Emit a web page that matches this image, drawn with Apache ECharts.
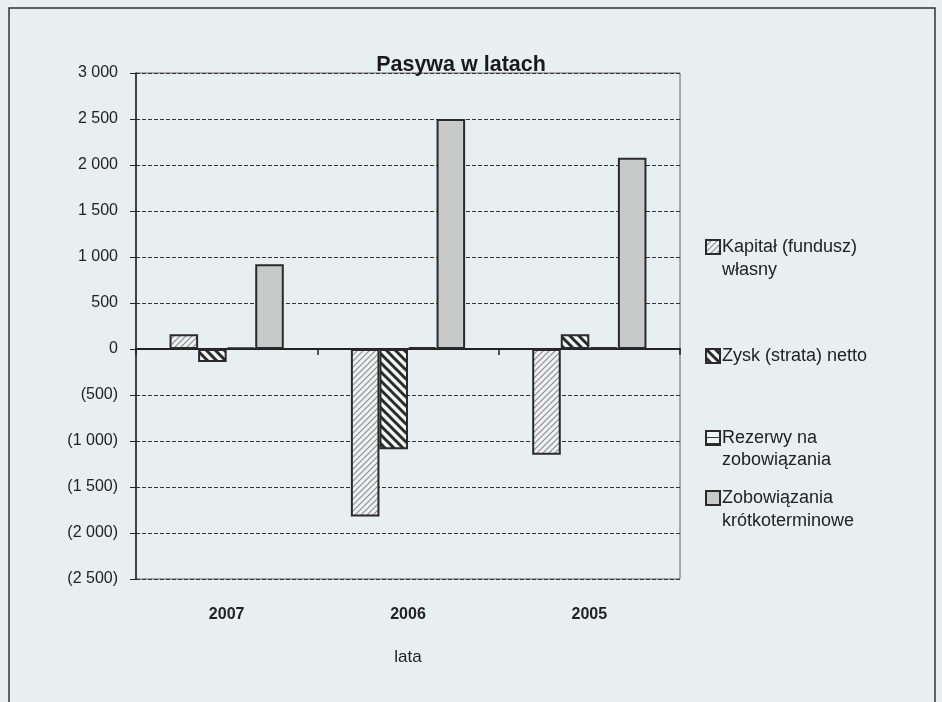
<!DOCTYPE html>
<html><head><meta charset="utf-8">
<script src="https://cdn.jsdelivr.net/npm/echarts@6/dist/echarts.min.js"></script>
<style>html,body{margin:0;padding:0;background:#e8eff1;}#c{width:942px;height:702px;}</style>
</head><body><div id="c"></div>
<script>
var categories = ['2007', '2006', '2005'];
var seriesNames = ['Kapitał (fundusz) własny', 'Zysk (strata) netto', 'Rezerwy na zobowiązania', 'Zobowiązania krótkoterminowe'];
var kapital = [160, -1820, -1150];
var zysk = [-140, -1090, 160];
var rezerwy = [15, 20, 20];
var zobowiazania = [920, 2500, 2080];
var yTicks = {min: -2500, max: 3000, interval: 500};

function pat(kind) {
  var c = document.createElement('canvas');
  var s = kind === 'zysk' ? 9 : 6;
  c.width = s; c.height = s;
  var g = c.getContext('2d');
  if (kind === 'kap') {
    g.fillStyle = '#eef2f2'; g.fillRect(0, 0, s, s);
    g.strokeStyle = '#8e8e8e'; g.lineWidth = 1.2;
    g.beginPath(); g.moveTo(0, s); g.lineTo(s, 0); g.moveTo(-1, 1); g.lineTo(1, -1); g.moveTo(s - 1, s + 1); g.lineTo(s + 1, s - 1); g.stroke();
  } else if (kind === 'zysk') {
    g.fillStyle = '#f4f6f6'; g.fillRect(0, 0, s, s);
    g.strokeStyle = '#2b2b2b'; g.lineWidth = 3;
    g.beginPath(); g.moveTo(0, 0); g.lineTo(s, s); g.moveTo(-2, s - 2); g.lineTo(2, s + 2); g.moveTo(s - 2, -2); g.lineTo(s + 2, 2); g.stroke();
  } else if (kind === 'rez') {
    g.fillStyle = '#f1f4f4'; g.fillRect(0, 0, s, s);
    g.fillStyle = '#333'; g.fillRect(0, 0, s, 1);
  }
  return {image: c, repeat: 'repeat'};
}

function fmt(v) {
  var a = Math.abs(v);
  var s = a >= 1000 ? Math.floor(a / 1000) + ' ' + String(a % 1000).padStart(3, '0') : String(a);
  return v < 0 ? '(' + s + ')' : s;
}

var font = 'Liberation Sans, Arial, sans-serif';
var colors = [pat('kap'), pat('zysk'), pat('rez'), '#c8c9c9'];
var datas = [kapital, zysk, rezerwy, zobowiazania];

var chart = echarts.init(document.getElementById('c'));
var legendTops = [233, 342, 424, 484];
var legends = seriesNames.map(function (n, i) {
  return {
    left: 700, top: legendTops[i], orient: 'vertical', data: [n],
    itemWidth: 14, itemHeight: 14, icon: 'rect', selectedMode: false,
    itemStyle: {borderColor: '#2a2a2a', borderWidth: 2},
    formatter: function (name) { return name.split(/ (?=własny|zobowiązania$|krótkoterminowe)/)[0]; },
    textStyle: {fontFamily: font, fontSize: 18, color: '#222', padding: [0, 0, 0, -3]}
  };
});

chart.setOption({
  backgroundColor: '#e8eff1',
  animation: false,
  title: {text: 'Pasywa w latach', left: 456, top: 49, textAlign: 'center',
    textStyle: {fontFamily: font, fontSize: 21.5, fontWeight: 'bold', color: '#1a1a1a'}},
  legend: legends,
  grid: {left: 136, right: 262, top: 73, bottom: 123, show: true, borderColor: '#666', borderWidth: 1, backgroundColor: 'transparent'},
  xAxis: [{
    type: 'category', data: categories, axisLine: {onZero: true, lineStyle: {color: '#222', width: 2}},
    axisTick: {show: true, length: 6, lineStyle: {color: '#222', width: 1.5}}, axisLabel: {show: false}
  }, {
    type: 'category', data: categories, position: 'bottom', axisLine: {show: false, onZero: false}, axisTick: {show: false},
    axisLabel: {margin: 28, fontFamily: font, fontSize: 16, fontWeight: 'bold', color: '#222'},
    name: 'lata', nameLocation: 'middle', nameGap: 70, nameTextStyle: {fontFamily: font, fontSize: 17, color: '#222'}
  }],
  yAxis: {
    type: 'value', min: yTicks.min, max: yTicks.max, interval: yTicks.interval,
    axisLine: {show: true, lineStyle: {color: '#222', width: 1.5}},
    axisTick: {show: true, inside: false, length: 6, lineStyle: {color: '#222'}},
    axisLabel: {formatter: fmt, margin: 18, fontFamily: font, fontSize: 16, color: '#222'},
    splitLine: {lineStyle: {color: '#333', type: [4, 2], width: 1}}
  },
  series: seriesNames.map(function (n, i) {
    return {
      name: n, type: 'bar', xAxisIndex: 0, data: datas[i], barGap: '0%', barCategoryGap: '37%',
      itemStyle: {color: colors[i], borderColor: '#2a2a2a', borderWidth: 2}
    };
  }),
  graphic: [
    {type: 'rect', shape: {x: 9, y: 8, width: 926, height: 720}, style: {fill: 'none', stroke: '#333', lineWidth: 1.5}, silent: true},
    {type: 'text', left: 722, top: 261, style: {text: 'własny', font: '18px ' + font, fill: '#222'}},
    {type: 'text', left: 722, top: 451, style: {text: 'zobowiązania', font: '18px ' + font, fill: '#222'}},
    {type: 'text', left: 722, top: 512, style: {text: 'krótkoterminowe', font: '18px ' + font, fill: '#222'}}
  ]
});
</script></body></html>
